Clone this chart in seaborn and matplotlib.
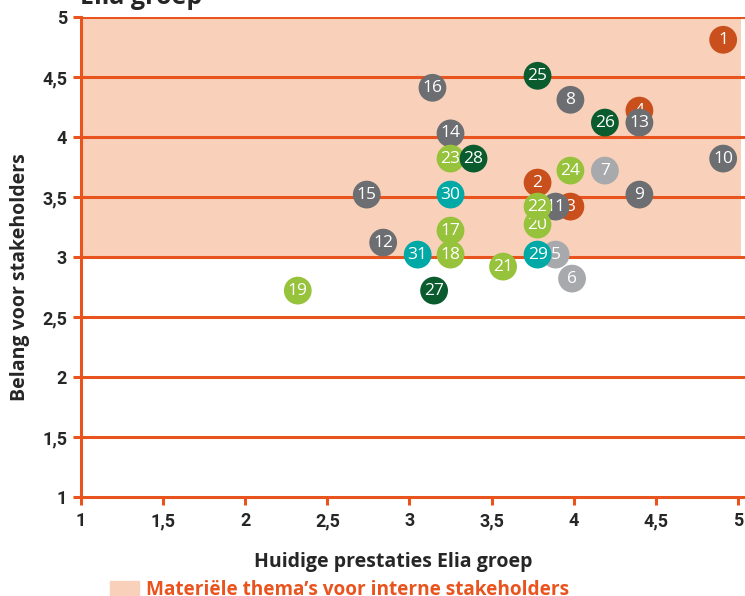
import numpy as np
import pandas as pd
import matplotlib.pyplot as plt
import seaborn as sns
from matplotlib.patches import Patch

# Gegevens: nummer, prestaties (x), belang (y), groep
nummers = [1, 2, 3, 4, 5, 6, 7, 8, 9, 10, 11, 12, 13, 14, 15, 16,
           17, 18, 19, 20, 21, 22, 23, 24, 25, 26, 27, 28, 29, 30, 31]
prestaties = [4.91, 3.78, 3.98, 4.40, 3.89, 3.99, 4.19, 3.98, 4.40, 4.91, 3.89, 2.84, 4.40, 3.25, 2.74, 3.14,
              3.25, 3.25, 2.32, 3.78, 3.57, 3.78, 3.25, 3.98, 3.78, 4.19, 3.15, 3.39, 3.78, 3.25, 3.05]
belang = [4.81, 3.62, 3.42, 4.22, 3.02, 2.82, 3.72, 4.31, 3.52, 3.82, 3.42, 3.12, 4.12, 4.03, 3.52, 4.41,
          3.22, 3.02, 2.72, 3.27, 2.92, 3.42, 3.82, 3.72, 4.51, 4.12, 2.72, 3.82, 3.02, 3.52, 3.02]
groep = ['oranje', 'oranje', 'oranje', 'oranje', 'lichtgrijs', 'lichtgrijs', 'lichtgrijs', 'grijs', 'grijs',
         'grijs', 'grijs', 'grijs', 'grijs', 'grijs', 'grijs', 'grijs',
         'lichtgroen', 'lichtgroen', 'lichtgroen', 'lichtgroen', 'lichtgroen', 'lichtgroen', 'lichtgroen',
         'lichtgroen', 'donkergroen', 'donkergroen', 'donkergroen', 'donkergroen', 'turkoois', 'turkoois', 'turkoois']

kleuren = {'oranje': '#C9501C', 'grijs': '#6D6E71', 'lichtgrijs': '#A7A9AC',
           'donkergroen': '#0A5C2F', 'lichtgroen': '#97C23C', 'turkoois': '#00A9A6'}

tick_labels = ['1', '1,5', '2', '2,5', '3', '3,5', '4', '4,5', '5']
ticks = [1, 1.5, 2, 2.5, 3, 3.5, 4, 4.5, 5]

df = pd.DataFrame({'nr': nummers, 'x': prestaties, 'y': belang, 'groep': groep})

oranje = '#E9531D'
perzik = '#F9D1BA'

sns.set_style('white')
plt.rcParams['font.family'] = ['Roboto', 'DejaVu Sans']
breed = ['Open Sans', 'DejaVu Sans']

fig = plt.figure(figsize=(7.45, 5.96), dpi=100)
ax = fig.add_axes([0.1087, 0.1661, 0.8913, 0.8054])

# materieel gebied
ax.fill_between([1, 5.02], 3, 5, color=perzik, lw=0, zorder=0)
for t in ticks[1:]:
    ax.axhline(t, color=oranje, lw=2.2, zorder=1)

# punten in oplopende volgorde tekenen
for _, r in df.iterrows():
    sns.scatterplot(x=[r['x']], y=[r['y']], color=kleuren[r['groep']], s=400,
                    edgecolor='none', ax=ax, zorder=3 + r['nr'] * 0.01, legend=False)
    ax.text(r['x'], r['y'], str(r['nr']), color='white', ha='center', va='center',
            fontsize=12.5, family=breed, zorder=3 + r['nr'] * 0.01)

ax.set_xlim(1, 5.043)
ax.set_ylim(1, 5)
ax.set_xticks(ticks)
ax.set_xticklabels(tick_labels)
ax.set_yticks(ticks)
ax.set_yticklabels(tick_labels)

for s in ['top', 'right']:
    ax.spines[s].set_visible(False)
for s in ['left', 'bottom']:
    ax.spines[s].set_color(oranje)
    ax.spines[s].set_linewidth(2.2)
    ax.spines[s].set_zorder(2)

ax.tick_params(axis='x', length=6, width=2.2, color=oranje, pad=5, labelsize=13, bottom=True)
ax.tick_params(axis='y', length=6, width=2.2, color=oranje, pad=4, labelsize=13, left=True)
for lbl in ax.get_xticklabels() + ax.get_yticklabels():
    lbl.set_fontweight('bold')

ax.set_xlabel('Huidige prestaties Elia groep', fontsize=14, fontweight='bold', family=breed)
ax.xaxis.set_label_coords(0.47, -0.115)
ax.set_ylabel('Belang voor stakeholders', fontsize=14, fontweight='bold', family=breed)
ax.yaxis.set_label_coords(-0.077, 0.458)

fig.text(0.108, 0.994, 'Elia groep', fontsize=18, fontweight='bold', family=breed, ha='left', va='baseline')

leg = fig.legend(handles=[Patch(color=perzik, label='Materiële thema’s voor interne stakeholders')],
                 loc='lower left', bbox_to_anchor=(0.125, -0.035), frameon=False,
                 handlelength=1.5, handleheight=0.8, handletextpad=0.4,
                 prop={'weight': 'bold', 'size': 13.7, 'family': breed})
for txt in leg.get_texts():
    txt.set_color(oranje)

fig.savefig('out.png', dpi=100)
